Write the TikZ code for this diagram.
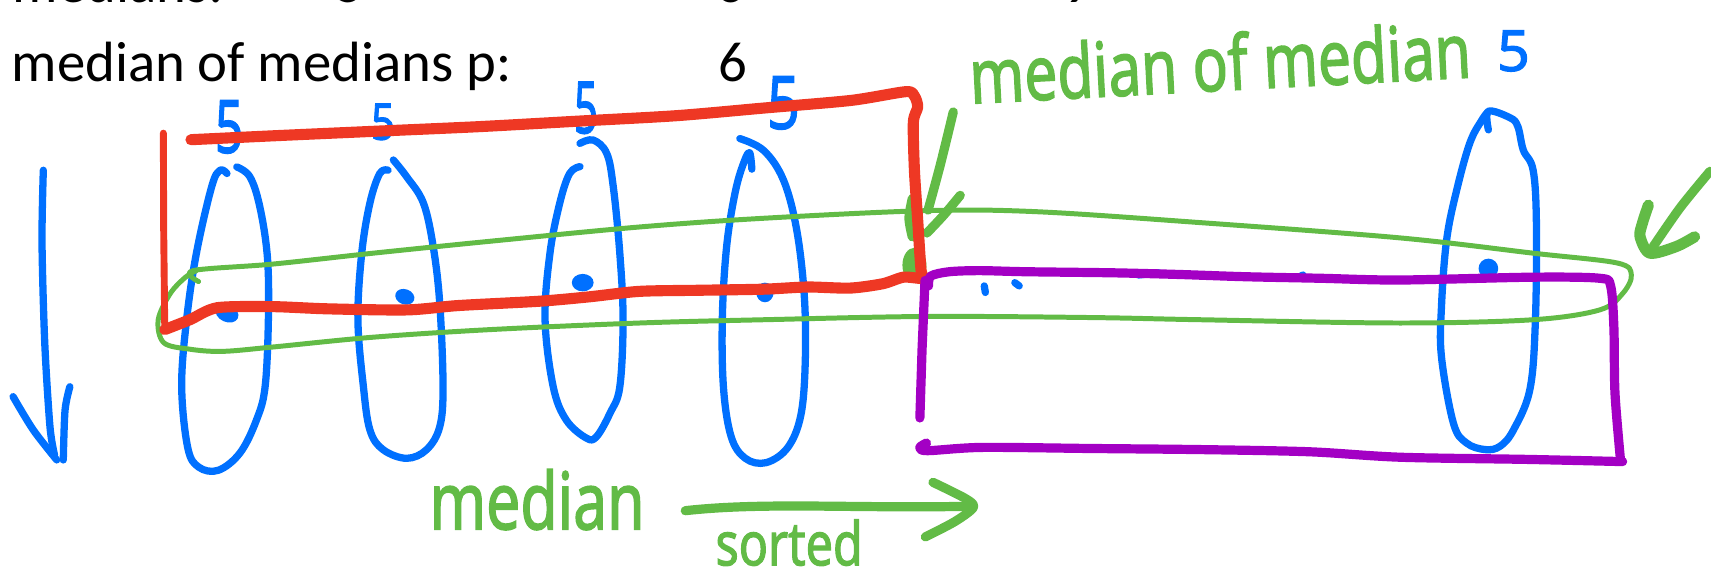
\documentclass[tikz,border=0pt]{standalone}
\usepackage{fontspec}
\usepackage{graphicx}
\newfontfamily\slidefont{Carlito}
\newfontfamily\handfont{Noto Sans}[FakeBold=2]
\definecolor{penblue}{RGB}{0,112,255}
\definecolor{penred}{RGB}{238,56,36}
\definecolor{pengreen}{RGB}{98,187,70}
\definecolor{penpurple}{RGB}{163,0,196}
\tikzset{
  pen/.style={line cap=round,line join=round},
  bluepen/.style={pen,draw=penblue,line width=1.9pt},
  redpen/.style={pen,draw=penred,line width=2.9pt},
  redthin/.style={pen,draw=penred,line width=1.8pt},
  greenpen/.style={pen,draw=pengreen,line width=1.3pt},
  greenbold/.style={pen,draw=pengreen,line width=2.4pt},
  purplepen/.style={pen,draw=penpurple,line width=2.4pt},
  printed/.style={inner sep=0pt,anchor=base west,font=\slidefont\fontsize{14.8pt}{18pt}\selectfont},
  printdigit/.style={inner sep=0pt,anchor=base,font=\slidefont\fontsize{14.8pt}{18pt}\selectfont},
  hand/.style={inner sep=0pt,anchor=base west,font=\handfont},
  handdigit/.style={inner sep=0pt,anchor=base,font=\handfont,text=penblue},
}
\begin{document}
\begin{tikzpicture}[x=0.1mm,y=-0.1mm]
\useasboundingbox (0,0) rectangle (1568,527);
\clip (0,0) rectangle (1568,527);

% printed slide text
\node[printed] (rowA) at (11,2) {medians:};
\node[printdigit] (rowA1) at (321,2) {5};
\node[printdigit] (rowA2) at (670,2) {6};
\node[printdigit] (rowA3) at (988,2) {9};
\node[printed] (rowB) at (10,75) {median of medians p:};
\node[printdigit] (rowB1) at (672,75) {6};

% groups of five (blue loops)
\draw[bluepen] plot[smooth,tension=0.6] coordinates {(217,153) (229,162) (238,189) (245,235) (246,290) (243,354) (235,385) (220,415) (200,431) (182,428) (172,410) (166.5,354) (171,293) (180,232) (194,171) (201.6,156) (208,159)};
\draw[bluepen] plot[smooth,tension=0.6] coordinates {(360.5,146.6) (372.7,162) (388,186) (397,226) (403,278) (406,354) (403,391) (391,412) (372.7,420) (351,412) (339,394) (333,354) (328,293) (331.5,232) (339,186) (348,159) (355.6,156)};
\draw[bluepen] plot[smooth,tension=0.6] coordinates {(531.5,131.4) (543.6,128.3) (556,140.5) (562,171) (568,232) (571,293) (568,354.5) (559,378.7) (546.8,400) (537.6,401.6) (519,385) (507,354.5) (499.5,293) (504,232) (513,186) (522,159) (531.5,152.7)};
\draw[bluepen] plot[smooth,tension=0.6] coordinates {(678,127) (700,138) (718,165) (730,210) (737,270) (738,330) (734,380) (722,410) (702,424) (683,420) (670,400) (663,355) (662,290) (666,225) (674,175) (682,148) (687,140) (689,155)};
\draw[bluepen] plot[smooth,tension=0.6] coordinates {(1364,119) (1364,102) (1384,108) (1391,116) (1396,137.5) (1405,156) (1408,204.6) (1407,296) (1402,357) (1387,394) (1374.6,409) (1361,412) (1344,406) (1332,388) (1321,327) (1321,281) (1325.7,220) (1335,174) (1347,131) (1358,110) (1364,102)};

% medians of the groups
\fill[penblue,rotate around={-25:(208,287)}] (208,287) ellipse [x radius=11,y radius=8];
\fill[penblue,rotate around={-20:(371,272)}] (371,272) ellipse [x radius=9,y radius=7];
\fill[penblue] (534,259) ellipse [x radius=10,y radius=8];
\fill[penblue] (701,268) ellipse [x radius=8,y radius=9];
\fill[penblue] (1364,246) ellipse [x radius=9,y radius=9];
\draw[bluepen] (902,262) -- (903,268);
\draw[bluepen] (930,259) -- (934,262);
\draw[bluepen] (1043,252) -- (1062,250);
\draw[bluepen] (1189,255) -- (1194,252);

% group sizes
\node[handdigit] (s1) at (210,140) {\resizebox{2.6mm}{4.8mm}{5}};
\node[handdigit] (s2) at (351,128) {\resizebox{2.2mm}{3.3mm}{5}};
\node[handdigit] (s3) at (537,122) {\resizebox{2.2mm}{4.7mm}{5}};
\node[handdigit] (s4) at (718,118) {\resizebox{3.0mm}{4.8mm}{5}};
\node[handdigit] (s5) at (1387,65) {\resizebox{3.0mm}{3.7mm}{5}};

% downward arrow at the left
\draw[bluepen] plot[smooth] coordinates {(39.7,156) (38.5,222) (41,314) (45.8,391) (50,417)};
\draw[bluepen] plot[smooth] coordinates {(12,363.5) (30.5,394) (52,421.5)};
\draw[bluepen] plot[smooth] coordinates {(64,354.4) (59.6,376) (58,421.5)};

% band of medians (green loop)
\draw[greenpen] plot[smooth,tension=0.55] coordinates {(182,258) (177,248) (250,242) (342,232) (450,221) (586,208) (700,200) (850,193) (950,194) (1100,204) (1283,218) (1405,232) (1482,241) (1495,252) (1487,269) (1466,284) (1405,293) (1283,296) (1100,293) (1000,291) (850,290) (700,293) (586,296) (450,302) (342,309) (250,318) (204,322) (174,320) (150,314) (145,293) (156,269) (170,254) (180,248)};

% pointer to the median of medians
\fill[pengreen] (838,243) ellipse [x radius=11,y radius=16];
\draw[greenbold] plot[smooth] coordinates {(873.6,102.6) (862,150) (850.5,192.5)};
\draw[greenbold] plot[smooth] coordinates {(880,179) (865,197) (849.5,213.5)};
\draw[greenbold] plot[smooth] coordinates {(836,182) (833,200) (836,217)};

% pointer at the right end of the band
\draw[greenbold] plot[smooth] coordinates {(1567,157) (1540,190) (1515,226)};
\draw[greenbold,line width=2.9pt] plot[smooth] coordinates {(1510.6,188) (1505,205) (1503,217) (1512,232) (1536,226) (1553,217)};

% smaller elements (red)
\draw[redpen] plot[smooth,tension=0.45] coordinates {(175,128) (260,124) (350,120) (440,116) (530,111) (620,106) (700,99) (780,92) (830,84) (838,88) (841,98) (837,112) (838,156) (841,202) (844,247) (846,255) (828,254) (809,260) (779,264) (740,263) (700,265) (640,266) (586,267) (540,272) (495,276) (420,280) (373,284) (300,283) (250,281) (199,282) (174,293) (151,302)};
\draw[redthin] (151,302) -- (150,210) -- (149.7,122);

% larger elements (purple)
\draw[purplepen] (847.7,257) -- (845,320) -- (843,383);
\draw[purplepen] plot[smooth,tension=0.5] coordinates {(851,262) (853,253) (870,249) (898,248) (940,249) (1020,250) (1080,251.5) (1142,253.6) (1210,255) (1283,256.6) (1405,254) (1466,255) (1476,262) (1479,300) (1480,360) (1485,421)};
\draw[purplepen] plot[smooth,tension=0.5] coordinates {(849,406) (843,410) (850,413) (900,410) (1000,411) (1100,412) (1200,414) (1283,419) (1400,421) (1487,423)};

% handwritten notes
\node[hand,text=pengreen,rotate=3] (momnote) at (889,95) {\resizebox{46mm}{5.3mm}{median of median}};
\node[hand,text=pengreen] (mednote) at (393,485) {\resizebox{19.7mm}{5.5mm}{median}};
\node[hand,text=pengreen] (sortnote) at (655,518) {\resizebox{13.5mm}{4.2mm}{sorted}};
\coordinate (sortA) at (628,468);
\coordinate (sortB) at (886,464);
\draw[greenbold] (sortA) .. controls (700,460) and (780,466) .. (sortB);
\draw[greenbold] plot[smooth] coordinates {(855,442) (885,457) (892,465) (875,478) (848,492)};
\end{tikzpicture}
\end{document}
